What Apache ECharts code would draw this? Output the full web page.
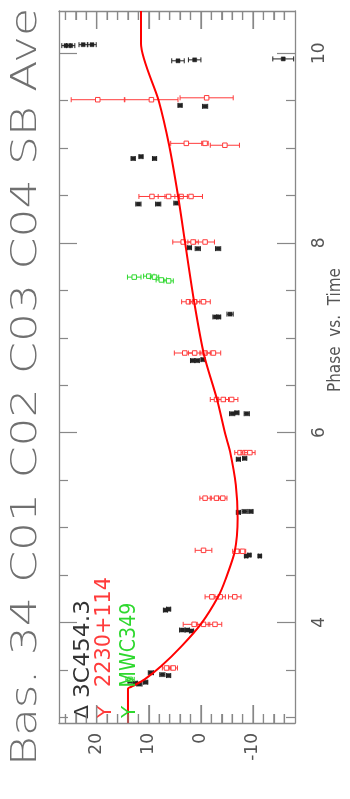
<!DOCTYPE html>
<html>
<head>
<meta charset="utf-8">
<script src="https://cdn.jsdelivr.net/npm/echarts@6/dist/echarts.min.js"></script>
<style>
html, body { margin: 0; padding: 0; background: #fff; }
#chart { width: 350px; height: 799px; }
</style>
</head>
<body>
<div id="chart"></div>
<script>
// Baseline 34 phase (deg) against time (h), drawn on its side:
// time runs bottom -> top, phase runs right -> left.

// Axis ticks
const timeMajor = [4, 6, 8, 10];
const timeMinor = [3, 3.5, 4.5, 5, 5.5, 6.5, 7, 7.5, 8.5, 9, 9.5];
const phaseMajor = [20, 10, 0, -10];
const phaseMinor = [26, 24, 22, 18, 16, 14, 12, 8, 6, 4, 2, -2, -4, -6, -8, -12, -14, -16];

// 3C454.3
const q3cTime  = [10.08, 10.08, 10.09, 10.09, 9.92, 9.93, 9.94, 9.45, 9.44, 8.89, 8.91, 8.89, 8.41, 8.41, 8.42,
                  7.95, 7.94, 7.94, 7.22, 7.22, 7.25, 6.76, 6.76, 6.77, 6.20, 6.21, 6.20, 5.72, 5.73,
                  5.16, 5.17, 5.17, 4.70, 4.71, 4.70, 4.13, 4.14, 3.92, 3.92, 3.91, 3.47, 3.45, 3.44,
                  3.38, 3.36, 3.35, 3.37];
const q3cPhase = [25.9, 25.0, 22.6, 20.9, 4.4, 1.2, -15.8, 4.0, -0.8, 13.0, 11.5, 8.9, 12.0, 8.2, 4.7,
                  2.2, 0.6, -3.3, -2.8, -3.4, -5.6, 1.6, 0.7, -0.4, -6.0, -6.9, -8.8, -7.2, -8.4,
                  -7.2, -8.4, -9.6, -8.7, -9.3, -11.3, 6.8, 6.2, 3.6, 2.6, 1.8, 9.6, 7.4, 6.2,
                  13.6, 12.6, 11.8, 10.6];
const q3cErr   = [0.8, 0.8, 0.8, 0.8, 1.2, 1.2, 2.0, 0.4, 0.5, 0.4, 0.4, 0.4, 0.5, 0.5, 0.5,
                  0.4, 0.5, 0.5, 0.5, 0.4, 0.6, 0.4, 0.4, 0.4, 0.5, 0.4, 0.5, 0.4, 0.4,
                  0.4, 0.5, 0.4, 0.3, 0.3, 0.3, 0.4, 0.4, 0.5, 0.4, 0.4, 0.5, 0.5, 0.4,
                  0.4, 0.4, 0.5, 0.4];

// 2230+114
const srcBTime  = [9.51, 9.51, 9.53, 9.05, 9.05, 9.03, 8.49, 8.49, 8.49, 8.49, 8.01, 8.01, 8.01,
                   7.38, 7.38, 7.38, 6.84, 6.84, 6.84, 6.84, 6.35, 6.35, 6.35, 5.79, 5.79, 5.79,
                   5.31, 5.31, 5.31, 4.76, 4.75, 4.75, 4.27, 4.27, 4.27, 3.98, 3.98, 3.98, 3.52, 3.52];
const srcBPhase = [19.8, 9.5, -1.1, 2.8, -0.8, -4.6, 9.4, 6.2, 3.8, 1.9, 3.4, 1.5, -0.8,
                   2.4, 1.2, -0.5, 3.1, 1.2, -0.8, -2.4, -3.0, -4.3, -5.9, -7.5, -8.5, -9.4,
                   -0.8, -3.0, -4.2, -0.5, -6.9, -8.0, -2.1, -3.7, -6.5, 1.3, -0.5, -2.7, 6.6, 5.3];
const srcBErr   = [5.1, 5.1, 5.1, 3.0, 0.6, 2.8, 2.5, 2.0, 1.2, 2.2, 2.0, 1.0, 1.8,
                   1.3, 1.0, 1.3, 2.0, 1.2, 1.0, 1.4, 1.2, 1.0, 1.2, 1.0, 0.8, 1.0,
                   1.0, 1.0, 0.8, 1.6, 0.8, 0.6, 1.3, 1.0, 1.2, 2.1, 1.2, 1.3, 0.8, 0.8];

// MWC349
const srcCTime  = [7.64, 7.65, 7.64, 7.61, 7.60, 3.40];
const srcCPhase = [12.8, 10.0, 8.9, 7.6, 6.2, 13.6];
const srcCErr   = [1.3, 1.0, 0.8, 1.0, 0.9, 0.8];

// Model phase curve
const curveTime  = [2.94, 3.30, 3.33, 3.40, 3.54, 3.75, 3.99, 4.27, 4.45, 4.75, 5.10, 5.45, 5.80, 5.98,
                    6.35, 6.82, 7.38, 7.99, 8.50, 9.03, 9.50, 10.10, 10.445];
const curvePhase = [14.0, 14.0, 13.0, 10.8, 7.6, 3.7, -0.1, -3.3, -4.7, -6.5, -7.05, -6.7, -5.6, -4.7,
                    -3.1, -0.6, 1.3, 3.0, 4.4, 6.1, 8.1, 11.5, 11.5];

const TIME_MIN = 2.94, TIME_MAX = 10.445;
const PHASE_MIN = -18.06, PHASE_MAX = 27.24;

const FRAME = '#888';
const TEXT = '#555';
const FONT = '"DejaVu Sans", sans-serif';
const MAJOR_LEN = 18, MINOR_LEN = 9;

const zip = (t, p, e) => t.map((v, i) => [v, p[i], e[i]]);

function errorBars(color, filled, size) {
  return function (params, api) {
    const t = api.value(0), p = api.value(1), e = api.value(2);
    const c = api.coord([p, t]);
    const a = api.coord([p - e, t]);
    const b = api.coord([p + e, t]);
    const cap = 2.5;
    const line = { stroke: color, lineWidth: 1 };
    return {
      type: 'group',
      children: [
        { type: 'line', shape: { x1: a[0], y1: c[1], x2: b[0], y2: c[1] }, style: line },
        { type: 'line', shape: { x1: a[0], y1: c[1] - cap, x2: a[0], y2: c[1] + cap }, style: line },
        { type: 'line', shape: { x1: b[0], y1: c[1] - cap, x2: b[0], y2: c[1] + cap }, style: line },
        { type: 'rect', shape: { x: c[0] - size / 2, y: c[1] - size / 2, width: size, height: size },
          style: filled ? { fill: color, stroke: color, lineWidth: 0.5 } : { fill: '#fff', stroke: color, lineWidth: 1 } }
      ]
    };
  };
}

const measureCtx = document.createElement('canvas').getContext('2d');
function textWidth(text, font) {
  measureCtx.font = font;
  return measureCtx.measureText(text).width;
}
// Text turned to read bottom -> top, stretched to a given length
function sideText(text, cx, cy, size, color, length, weight) {
  const font = (weight || 'normal') + ' ' + size + 'px ' + FONT;
  return {
    type: 'text', x: cx, y: cy, rotation: Math.PI / 2,
    scaleX: length ? length / textWidth(text, font) : 1,
    silent: true, z: 10,
    style: { text: text, font: font, fill: color, align: 'center', verticalAlign: 'middle' }
  };
}

function phaseAxis(position, major) {
  return {
    type: 'value', position: position, min: PHASE_MIN, max: PHASE_MAX, inverse: true,
    axisLine: { show: major, onZero: false, lineStyle: { color: FRAME, width: 1.3 } },
    axisTick: { show: true, inside: true, length: major ? MAJOR_LEN : MINOR_LEN,
                customValues: major ? phaseMajor : phaseMinor, lineStyle: { color: FRAME, width: 1.2 } },
    axisLabel: { show: major && position === 'bottom', customValues: phaseMajor, rotate: 90, margin: 10,
                 fontSize: 17, color: TEXT, fontFamily: FONT },
    splitLine: { show: false }
  };
}
function timeAxis(position, major) {
  return {
    type: 'value', position: position, min: TIME_MIN, max: TIME_MAX,
    axisLine: { show: major, onZero: false, lineStyle: { color: FRAME, width: 1.3 } },
    axisTick: { show: true, inside: true, length: major ? MAJOR_LEN : MINOR_LEN,
                customValues: major ? timeMajor : timeMinor, lineStyle: { color: FRAME, width: 1.2 } },
    axisLabel: { show: major && position === 'right', customValues: timeMajor, rotate: 90, margin: 16,
                 fontSize: 17, color: TEXT, fontFamily: FONT },
    splitLine: { show: false }
  };
}

const labels = [
  sideText('Bas. 34 C01 C02 C03 C04 SB Ave', 27, 387, 35, '#707070', 758, 300),
  sideText('Phase  vs.  Time', 336, 330, 17, TEXT, 124),
  sideText('\u0394', 83, 712, 20, '#333'),
  sideText('3C454.3', 84, 649, 21, '#333', 98),
  sideText('Y', 106, 712, 20, '#ff3b3b'),
  sideText('2230+114', 105, 632, 21, '#ff3b3b', 110),
  sideText('Y', 130, 712, 20, '#2ed82e'),
  sideText('MWC349', 130, 645, 21, '#2ed82e', 85)
];

const chart = echarts.init(document.getElementById('chart'), null, { renderer: 'canvas' });
chart.setOption({
  animation: false,
  grid: { left: 59, top: 11, width: 236, height: 712 },
  xAxis: [phaseAxis('bottom', true), phaseAxis('bottom', false), phaseAxis('top', true), phaseAxis('top', false)],
  yAxis: [timeAxis('left', true), timeAxis('left', false), timeAxis('right', true), timeAxis('right', false)],
  series: [
    {
      type: 'custom', name: '3C454.3', renderItem: errorBars('#222', true, 4),
      xAxisIndex: 0, yAxisIndex: 0,
      data: zip(q3cTime, q3cPhase, q3cErr), encode: { x: 1, y: 0 }, z: 3
    },
    {
      type: 'custom', name: '2230+114', renderItem: errorBars('#ff3b3b', false, 4.5),
      xAxisIndex: 0, yAxisIndex: 0,
      data: zip(srcBTime, srcBPhase, srcBErr), encode: { x: 1, y: 0 }, z: 4
    },
    {
      type: 'custom', name: 'MWC349', renderItem: errorBars('#2ed82e', false, 4.5),
      xAxisIndex: 0, yAxisIndex: 0,
      data: zip(srcCTime, srcCPhase, srcCErr), encode: { x: 1, y: 0 }, z: 4
    },
    {
      type: 'line', name: 'model', showSymbol: false, smooth: 0.25, z: 5,
      xAxisIndex: 0, yAxisIndex: 0,
      data: curveTime.map((t, i) => [curvePhase[i], t]),
      lineStyle: { color: '#ff0000', width: 2 }
    }
  ],
  graphic: labels
});

// Phase ticks along the bottom and top frame edges, positioned through the chart's own scales
const tickMarks = [];
function addPhaseTick(v, len) {
  const lo = chart.convertToPixel({ xAxisIndex: 0, yAxisIndex: 0 }, [v, TIME_MIN]);
  const hi = chart.convertToPixel({ xAxisIndex: 0, yAxisIndex: 0 }, [v, TIME_MAX]);
  if (!lo || !hi) return;
  const style = { stroke: FRAME, lineWidth: 1.2 };
  tickMarks.push(
    { type: 'line', z: 100, silent: true, shape: { x1: lo[0], y1: lo[1], x2: lo[0], y2: lo[1] - len }, style: style },
    { type: 'line', z: 100, silent: true, shape: { x1: hi[0], y1: hi[1], x2: hi[0], y2: hi[1] + len }, style: style }
  );
}
try {
  phaseMajor.forEach(v => addPhaseTick(v, MAJOR_LEN));
  phaseMinor.forEach(v => addPhaseTick(v, MINOR_LEN));
  chart.setOption({ graphic: labels.concat(tickMarks) });
} catch (e) {
  // leave the chart as drawn
}
</script>
</body>
</html>
